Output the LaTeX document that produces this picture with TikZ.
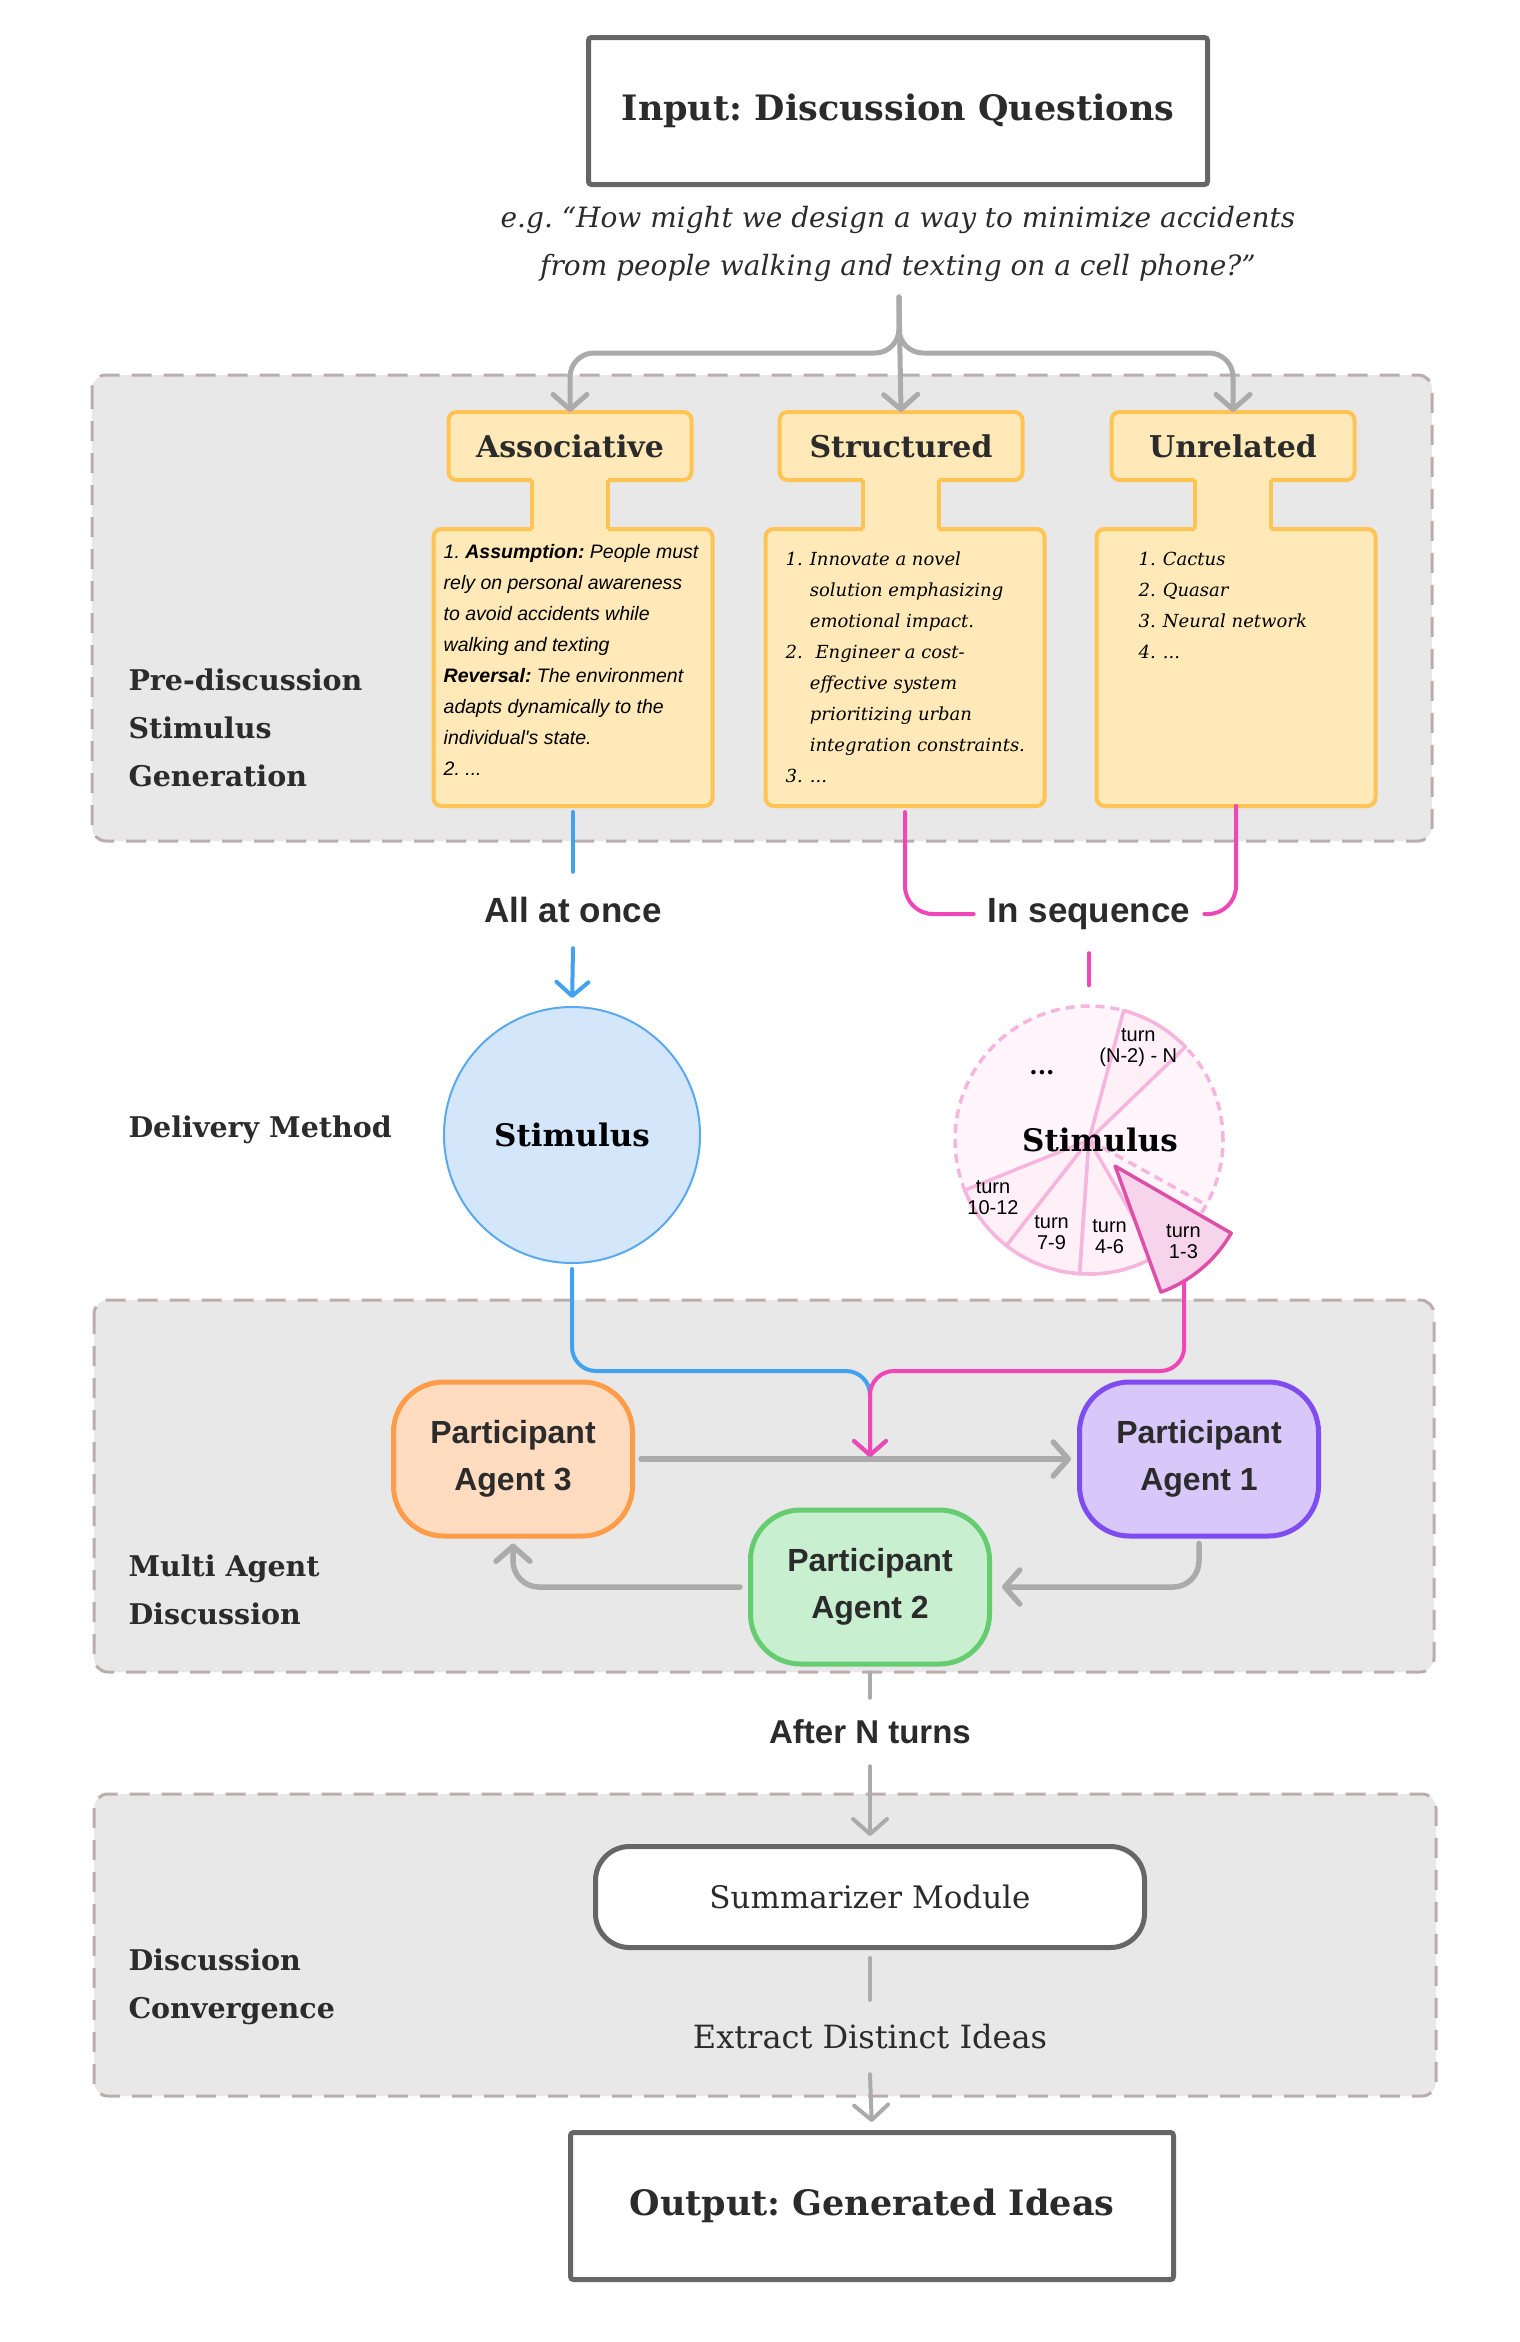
\documentclass[tikz,border=0pt]{standalone}
\usepackage{fontspec}
\setmainfont{DejaVu Serif}
\newfontfamily\sansfnt{Liberation Sans}
\usetikzlibrary{arrows.meta, positioning}
\frenchspacing

\newcommand{\fsz}[2]{\fontsize{#1pt}{#2pt}\selectfont}

\definecolor{secfill}{HTML}{E8E8E8}
\definecolor{secline}{HTML}{BBADAD}
\definecolor{ylwfill}{HTML}{FFE9B8}
\definecolor{ylwline}{HTML}{FFC454}
\definecolor{arrgray}{HTML}{ABABAB}
\definecolor{boxgray}{HTML}{666666}
\definecolor{txt}{HTML}{2B2B2B}
\definecolor{bluel}{HTML}{42A2F0}
\definecolor{bluecirc}{HTML}{5AA8EE}
\definecolor{bluefill}{HTML}{D4E7FA}
\definecolor{pinkl}{HTML}{EF47B5}
\definecolor{pinksoft}{HTML}{F6B5DD}
\definecolor{pinkfill}{HTML}{FFF5FB}
\definecolor{pinkslice}{HTML}{FFF0F8}
\definecolor{pinkwedge}{HTML}{F6D4EC}
\definecolor{pinkdark}{HTML}{DE4FA8}
\definecolor{orgfill}{HTML}{FFDCC0}
\definecolor{orgline}{HTML}{FF9C4A}
\definecolor{purfill}{HTML}{D8C8FA}
\definecolor{purline}{HTML}{7E4CF0}
\definecolor{grnfill}{HTML}{C8F0D0}
\definecolor{grnline}{HTML}{66CC70}

\begin{document}
\begin{tikzpicture}[x=1pt, y=-1pt,
    section/.style={draw=secline, fill=secfill, line width=3pt, dash pattern=on 20pt off 12pt, rounded corners=14pt},
    lbl/.style={anchor=west, align=left, text=txt, font=\fsz{28.5}{48}\bfseries},
    iobox/.style={draw=boxgray, fill=white, line width=5pt, rounded corners=3pt, minimum width=619pt, minimum height=147pt, text=txt, font=\fsz{35}{42}\bfseries},
    hdr/.style={draw=ylwline, fill=ylwfill, line width=4pt, rounded corners=8pt, outer sep=0pt, minimum width=243pt, minimum height=68pt, text=txt, font=\fsz{30}{36}\bfseries},
    bodybox/.style={draw=ylwline, fill=ylwfill, line width=4pt, rounded corners=8pt, outer sep=0pt, minimum width=279pt, minimum height=277pt},
    listsans/.style={align=left, inner sep=0pt, text=black, font=\sansfnt\fsz{19.5}{31}\itshape},
    listserif/.style={inner sep=0pt, text=black, font=\fsz{18}{31}\itshape},
    flow/.style={inner sep=0pt, inner xsep=14pt, text=txt, font=\sansfnt\fsz{35}{42}\bfseries},
    garrow/.style={draw=arrgray, line width=5pt, line cap=round, -{Straight Barb[length=15pt, width=34pt, round]}},
    gline/.style={draw=arrgray, line width=4pt, line cap=round},
    bline/.style={draw=bluel, line width=4pt, line cap=round},
    pline/.style={draw=pinkl, line width=4pt, line cap=round},
    tipb/.style={-{Straight Barb[length=14pt, width=32pt, round]}},
    stimtxt/.style={text=black, font=\fsz{31}{36}\bfseries},
    slice/.style={draw=pinksoft, fill=pinkslice, line width=3.5pt, line join=round},
    turnlbl/.style={align=center, inner sep=0pt, text=black, font=\sansfnt\fsz{20}{21}},
    agent/.style={line width=5pt, rounded corners=50pt, minimum width=239pt, minimum height=154pt, align=center, text=txt, font=\sansfnt\fsz{32}{47}\bfseries},
    modbox/.style={draw=boxgray, fill=white, line width=5pt, rounded corners=34pt, minimum width=549pt, minimum height=101pt, text=txt, font=\fsz{31}{36}},
  ]
  \useasboundingbox (0,0) rectangle (1520,2342);

  % stage backgrounds
  \draw[section] (92,375) rectangle (1432,841);
  \draw[section] (94,1300) rectangle (1434,1672);
  \draw[section] (94,1794) rectangle (1436,2096);

  \node[lbl] (lblPre) at (125,728) {Pre-discussion\\Stimulus\\Generation};
  \node[lbl] (lblDel) at (125,1130) {Delivery Method};
  \node[lbl] (lblMulti) at (125,1590) {Multi Agent\\Discussion};
  \node[lbl] (lblConv) at (125,1987) {Discussion\\Convergence};

  % input
  \node[iobox] (input) at (898,111) {Input: Discussion Questions};
  \node[align=center, text=txt, font=\fsz{28}{48}\itshape] (eg) at (898,244)
    {e.g. “How might we design a way to minimize accidents\\from people walking and texting on a cell phone?”};

  % stimulus types
  \node[hdr] (assocH) at (570,446) {Associative};
  \node[hdr] (structH) at (901,446) {Structured};
  \node[hdr] (unrelH) at (1233,446) {Unrelated};
  \node[bodybox] (assocB) at (573,667.5) {};
  \node[bodybox] (structB) at (905,667.5) {};
  \node[bodybox] (unrelB) at (1236,667.5) {};
  \foreach \nm in {assoc, struct, unrel} {
    \fill[ylwfill] ([xshift=-38pt, yshift=4pt]\nm H.south) rectangle ([xshift=38pt, yshift=-4pt]\nm H.south |- \nm B.north);
    \draw[ylwline, line width=4pt, line cap=square] ([xshift=-38pt]\nm H.south) -- ([xshift=-38pt]\nm H.south |- \nm B.north)
      ([xshift=38pt]\nm H.south) -- ([xshift=38pt]\nm H.south |- \nm B.north);
  }

  \node[listsans, below right=15pt and 10pt of assocB.north west] (assocT)
    {1. \textbf{Assumption:} People must\\rely on personal awareness\\to avoid accidents while\\walking and texting\\\textbf{Reversal:} The environment\\adapts dynamically to the\\individual's state.\\2. ...};
  \node[listserif, below right=15pt and 20pt of structB.north west] (structT)
    {\begin{tabular}{@{}r@{\hspace{7pt}}l@{}}
      1. & Innovate a novel\\
         & solution emphasizing\\
         & emotional impact.\\
      2. & \ Engineer a cost-\\
         & effective system\\
         & prioritizing urban\\
         & integration constraints.\\
      3. & ...
    \end{tabular}};
  \node[listserif, below right=15pt and 42pt of unrelB.north west] (unrelT)
    {\begin{tabular}{@{}r@{\hspace{7pt}}l@{}}
      1. & Cactus\\
      2. & Quasar\\
      3. & Neural network\\
      4. & ...
    \end{tabular}};

  % fork from the question
  \coordinate (fork) at (899,297);
  \coordinate (split) at (899,353);
  \draw[garrow, rounded corners=24pt] (fork) |- (assocH.north |- split) -- (assocH.north);
  \draw[garrow] (fork) -- (structH.north);
  \draw[garrow, rounded corners=24pt] (fork) |- (unrelH.north |- split) -- (unrelH.north);

  % delivery
  \node[flow, minimum height=76pt] (allonce) at (573,910) {All at once};
  \node[flow, minimum height=78pt] (inseq) at (1089,914) {In sequence};

  \node[circle, draw=bluecirc, fill=bluefill, line width=2pt, minimum size=256pt, stimtxt] (stimA) at (572,1135) {Stimulus};

  \node[circle, draw=pinksoft, fill=pinkfill, line width=3.5pt, dash pattern=on 9pt off 6pt, minimum size=268pt, inner sep=0pt] (stimB) at (1089,1140) {};
  \draw[pinksoft, line width=3.5pt, dash pattern=on 9pt off 6pt] (stimB.center) -- ++(331:134pt);
  \foreach \a/\b in {44/75, 202/232, 232/266, 266/300}
    \draw[slice] (stimB.center) -- ++(\a:134pt) arc[start angle=\a, end angle=\b, radius=134pt] -- cycle;
  \coordinate (slot) at ([shift={(315:37pt)}]stimB.center);
  \draw[slice, draw=pinkdark, fill=pinkwedge] (slot) -- ++(290:134pt) arc[start angle=290, end angle=330, radius=134pt] -- cycle;
  \coordinate (seqout) at ([shift={(301:134pt)}]slot);

  \node[stimtxt] (stimBlbl) at ([xshift=11pt]stimB.center) {Stimulus};
  \node[font=\fsz{24}{24}\bfseries] (more) at ([shift={(125:82pt)}]stimB.center) {...};
  \node[turnlbl] (tN) at ([shift={(62:105pt)}]stimB.center) {turn\\(N-2) - N};
  \node[turnlbl] (t10) at ([shift={(211:112pt)}]stimB.center) {turn\\10-12};
  \node[turnlbl] (t7) at ([shift={(248:100pt)}]stimB.center) {turn\\7-9};
  \node[turnlbl] (t4) at ([shift={(282:99pt)}]stimB.center) {turn\\4-6};
  \node[turnlbl] (t1) at ([shift={(312:102pt)}]slot) {turn\\1-3};

  \draw[bline, shorten <=6pt] (assocB.south) -- (allonce.north);
  \draw[bline, tipb, shorten >=8pt] (allonce.south) -- (stimA.north);
  \draw[pline, rounded corners=28pt, shorten <=6pt] (structB.south) |- (inseq.west);
  \draw[pline, rounded corners=28pt] (inseq.east) -| (unrelB.south);
  \draw[pline, shorten >=19pt] (inseq.south) -- (inseq.south |- stimB.north);

  % discussion
  \node[agent, draw=orgline, fill=orgfill] (agent3) at (513,1459) {Participant\\Agent 3};
  \node[agent, draw=purline, fill=purfill] (agent1) at (1199,1459) {Participant\\Agent 1};
  \node[agent, draw=grnline, fill=grnfill] (agent2) at (870,1587) {Participant\\Agent 2};

  \draw[garrow, line width=5.5pt, shorten <=6pt, shorten >=6pt] (agent3.east) -- (agent1.west);
  \draw[garrow, line width=5.5pt, rounded corners=26pt, shorten <=5pt, shorten >=10pt] (agent1.south) |- (agent2.east);
  \draw[garrow, line width=5.5pt, rounded corners=26pt, shorten <=8pt, shorten >=5pt] (agent2.west) -| (agent3.south);

  \coordinate (join) at (870,1371);
  \coordinate (drop) at (870,1457);
  \draw[bline, tipb, rounded corners=24pt, shorten <=5pt] (stimA.south) |- (join) -- (drop);
  \draw[pline, tipb, rounded corners=24pt] (seqout) |- (join) -- (drop);

  % convergence
  \node[flow, font=\sansfnt\fsz{33}{40}\bfseries, minimum height=68pt] (afterN) at (870,1732) {After N turns};
  \node[modbox] (summ) at (870,1897) {Summarizer Module};
  \node[flow, font=\fsz{32}{38}, minimum height=74pt] (extract) at (870,2037) {Extract Distinct Ideas};
  \node[iobox, minimum width=603pt] (output) at (872,2206) {Output: Generated Ideas};

  \draw[gline, shorten <=6pt] (agent2.south) -- (afterN.north);
  \draw[garrow, line width=4pt, shorten >=8pt] (afterN.south) -- (summ.north);
  \draw[gline, shorten <=8pt] (summ.south) -- (extract.north);
  \draw[garrow, line width=4pt, shorten >=8pt] (extract.south) -- (output.north);
\end{tikzpicture}
\end{document}
